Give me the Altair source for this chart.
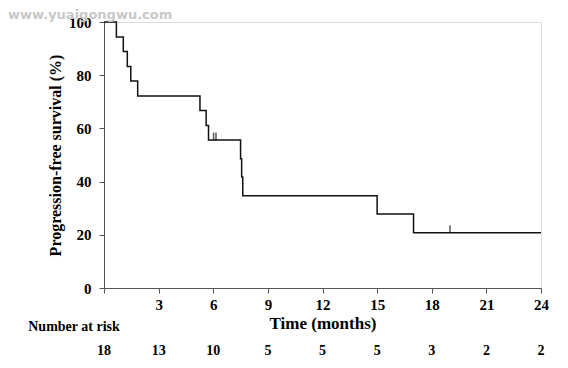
import altair as alt
import pandas as pd

# Kaplan-Meier steps
step_times = [0, 0.68, 1.06, 1.28, 1.47, 1.85, 5.27, 5.61, 5.74, 7.50, 7.56, 7.62, 15.0, 17.0, 24.0]
step_surv = [100, 94.4, 88.9, 83.3, 77.8, 72.2, 66.7, 61.1, 55.6, 48.6, 41.7, 34.7, 27.8, 20.8, 20.8]

cens_times = [6.02, 6.15, 19.0]
cens_surv = [55.6, 55.6, 20.8]

risk_times = [0, 3, 6, 9, 12, 15, 18, 21, 24]
risk_counts = ["18", "13", "10", "5", "5", "5", "3", "2", "2"]

x_ticks = [i * 1.5 for i in range(17)]
y_ticks = [i * 10 for i in range(11)]

FONT = "Liberation Serif"
W, H = 437, 266

steps = pd.DataFrame({"t": step_times, "s": step_surv})
cens = pd.DataFrame({"t": cens_times, "s": cens_surv})
risk = pd.DataFrame({"t": risk_times, "n": risk_counts})

xscale = alt.Scale(domain=[0, 24], nice=False, zero=False)
yscale = alt.Scale(domain=[0, 100], nice=False)

xaxis = alt.Axis(
    values=x_ticks,
    labelExpr="(datum.value % 3 == 0 && datum.value > 0) ? datum.value : ''",
    title="Time (months)",
    titleFont=FONT, titleFontSize=17, titleFontWeight="bold", titleColor="black",
    titlePadding=3,
    labelFont=FONT, labelFontSize=15, labelFontWeight="bold", labelColor="black",
    labelPadding=4, labelFlush=False,
    tickSize=5, tickColor="#555", domainColor="#555", grid=False,
)
yaxis = alt.Axis(
    values=y_ticks,
    labelExpr="(datum.value % 20 == 0) ? datum.value : ''",
    title="Progression-free survival (%)",
    titleFont=FONT, titleFontSize=16, titleFontWeight="bold", titleColor="black",
    titlePadding=5,
    labelFont=FONT, labelFontSize=15, labelFontWeight="bold", labelColor="black",
    labelPadding=8, labelFlush=False,
    tickSize=5, tickColor="#555", domainColor="#555", grid=False,
)

curve = alt.Chart(steps).mark_line(interpolate="step-after", color="#111", strokeWidth=1.5).encode(
    x=alt.X("t:Q", scale=xscale, axis=xaxis),
    y=alt.Y("s:Q", scale=yscale, axis=yaxis),
)

censor = alt.Chart(cens).mark_tick(orient="vertical", size=8, thickness=1.5, color="#111", yOffset=-3.5).encode(
    x=alt.X("t:Q", scale=xscale),
    y=alt.Y("s:Q", scale=yscale),
)

risk_nums = alt.Chart(risk).mark_text(
    font=FONT, fontSize=14, fontWeight="bold", color="black", baseline="middle", clip=False
).encode(
    x=alt.X("t:Q", scale=xscale),
    y=alt.value(H + 63),
    text="n:N",
)

risk_label = alt.Chart(pd.DataFrame({"lab": ["Number at risk"]})).mark_text(
    font=FONT, fontSize=14, fontWeight="bold", color="black", baseline="middle", align="center"
).encode(
    x=alt.value(-30), y=alt.value(H + 39), text="lab:N"
)

watermark = alt.Chart(pd.DataFrame({"lab": ["www.yuaigongwu.com"]})).mark_text(
    font="DejaVu Sans", fontSize=13, fontWeight="bold", color="#c8c8c8", baseline="middle", align="left"
).encode(
    x=alt.value(-96), y=alt.value(-7), text="lab:N"
)

chart = alt.layer(curve, censor, risk_nums, risk_label, watermark).properties(
    width=W, height=H,
    autosize=alt.AutoSizeParams(type="none"),
    padding={"left": 96, "top": 14, "right": 19, "bottom": 72},
).configure_view(stroke="#555", strokeWidth=1).configure(background="white")

chart.save("out.html", embed_options={"renderer": "svg", "actions": False})
